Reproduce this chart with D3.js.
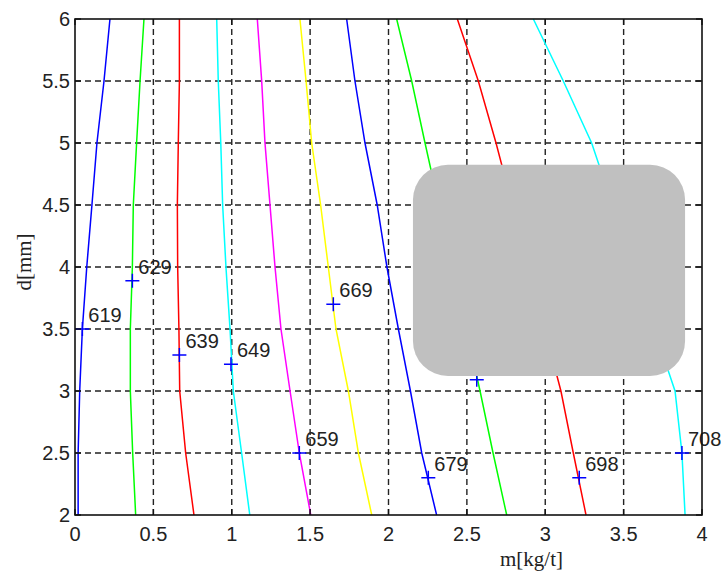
<!DOCTYPE html>
<html><head><meta charset="utf-8">
<script src="https://cdn.jsdelivr.net/npm/d3@7"></script>
<style>body{margin:0;background:#fff}svg{display:block}</style>
</head><body>
<svg id="c" width="721" height="573"></svg>
<script>
// y positions at which contour x-values were read
const yLevels = [2, 2.5, 3, 3.5, 4, 4.5, 5, 5.5, 6];
// contour x-values at each yLevel (null = hidden behind the grey box)
const c619 = [0.02, 0.02, 0.03, 0.047, 0.075, 0.108, 0.14, 0.185, 0.223];
const c629 = [0.387, 0.368, 0.353, 0.353, 0.366, 0.372, 0.393, 0.415, 0.44];
const c639 = [0.759, 0.706, 0.668, 0.663, 0.655, 0.653, 0.659, 0.666, 0.666];
const c649 = [1.115, 1.063, 1.01, 0.989, 0.963, 0.942, 0.93, 0.914, 0.904];
const c659 = [1.504, 1.431, 1.372, 1.314, 1.276, 1.244, 1.212, 1.191, 1.163];
const c669 = [1.893, 1.808, 1.744, 1.665, 1.616, 1.567, 1.51, 1.474, 1.435];
const c679 = [2.307, 2.212, 2.14, 2.063, 1.99, 1.928, 1.85, 1.786, 1.733];
const c688 = [2.754, 2.667, 2.584, null, null, null, 2.233, 2.148, 2.052];
const c698 = [3.26, 3.179, 3.1, null, null, null, 2.686, 2.573, 2.439];
const c708 = [3.892, 3.872, 3.828, null, null, null, 3.296, 3.115, 2.924];
const contours = [c619, c629, c639, c649, c659, c669, c679, c688, c698, c708];
const contourColors = ["#0000ff", "#00ff00", "#ff0000", "#00ffff", "#ff00ff", "#ffff00", "#0000ff", "#00ff00", "#ff0000", "#00ffff"];
// label marker positions
const labelText = ["619", "629", "639", "649", "659", "669", "679", "688", "698", "708"];
const labelX = [0.047, 0.366, 0.666, 0.995, 1.431, 1.648, 2.254, 2.563, 3.217, 3.872];
const labelY = [3.5, 3.89, 3.29, 3.215, 2.5, 3.70, 2.30, 3.09, 2.30, 2.50];
// ticks
const xTicks = [0, 0.5, 1, 1.5, 2, 2.5, 3, 3.5, 4];
const xTickLabels = ["0", "0.5", "1", "1.5", "2", "2.5", "3", "3.5", "4"];
const yTicks = [2, 2.5, 3, 3.5, 4, 4.5, 5, 5.5, 6];
const yTickLabels = ["2", "2.5", "3", "3.5", "4", "4.5", "5", "5.5", "6"];
// grey overlay box in data coordinates [x0, x1], [y0, y1]
const boxX = [2.156, 3.892];
const boxY = [3.121, 4.824];

const svg = d3.select("#c");
const L = 75, R = 702, T = 19, B = 515;
const x = d3.scaleLinear().domain([0, 4]).range([L, R]);
const y = d3.scaleLinear().domain([2, 6]).range([B, T]);
const font = "'Liberation Sans', Arial, sans-serif";

// grid
const grid = svg.append("g").attr("stroke", "#222").attr("stroke-width", 1.4).attr("stroke-dasharray", "6,4");
xTicks.slice(1, -1).forEach(t => grid.append("line").attr("x1", x(t)).attr("x2", x(t)).attr("y1", B).attr("y2", T));
yTicks.slice(1, -1).forEach(t => grid.append("line").attr("y1", y(t)).attr("y2", y(t)).attr("x1", L).attr("x2", R));

// contours
const line = d3.line().x(d => x(d[0])).y(d => y(d[1]));
contours.forEach((c, i) => {
  const pts = c.map((v, j) => [v, yLevels[j]]).filter(d => d[0] !== null);
  svg.append("path").attr("d", line(pts)).attr("fill", "none")
    .attr("stroke", contourColors[i]).attr("stroke-width", 1.5);
});

// markers + labels
labelText.forEach((t, i) => {
  const px = x(labelX[i]), py = y(labelY[i]);
  svg.append("path").attr("d", `M${px - 7},${py}H${px + 7}M${px},${py - 7}V${py + 7}`)
    .attr("stroke", "#0000ff").attr("stroke-width", 1.5);
  svg.append("text").attr("x", px + 6).attr("y", py - 7).text(t)
    .attr("font-family", font).attr("font-size", 20).attr("fill", "#222");
});

// axes box and ticks
svg.append("rect").attr("x", L).attr("y", T).attr("width", R - L).attr("height", B - T)
  .attr("fill", "none").attr("stroke", "#111").attr("stroke-width", 1.6);
const tk = svg.append("g").attr("stroke", "#111").attr("stroke-width", 1.4);
xTicks.forEach(t => {
  tk.append("line").attr("x1", x(t)).attr("x2", x(t)).attr("y1", B).attr("y2", B - 6);
  tk.append("line").attr("x1", x(t)).attr("x2", x(t)).attr("y1", T).attr("y2", T + 6);
});
yTicks.forEach(t => {
  tk.append("line").attr("y1", y(t)).attr("y2", y(t)).attr("x1", L).attr("x2", L + 6);
  tk.append("line").attr("y1", y(t)).attr("y2", y(t)).attr("x1", R).attr("x2", R - 6);
});

// tick labels
xTicks.forEach((t, i) => svg.append("text").attr("x", x(t)).attr("y", 541).attr("text-anchor", "middle")
  .attr("font-family", font).attr("font-size", 20).attr("fill", "#222").text(xTickLabels[i]));
yTicks.forEach((t, i) => svg.append("text").attr("x", 70).attr("y", y(t) + 7).attr("text-anchor", "end")
  .attr("font-family", font).attr("font-size", 20).attr("fill", "#222").text(yTickLabels[i]));

// axis titles
svg.append("text").attr("x", 500).attr("y", 566).attr("font-family", "'Liberation Serif', 'Times New Roman', serif")
  .attr("font-size", 21).attr("fill", "#222").text("m[kg/t]");
svg.append("text").attr("transform", "translate(31,262) rotate(-90)").attr("text-anchor", "middle")
  .attr("font-family", "'Liberation Serif', 'Times New Roman', serif").attr("font-size", 21).attr("fill", "#222").text("d[mm]");

// grey overlay
svg.append("rect").attr("x", x(boxX[0])).attr("y", y(boxY[1]))
  .attr("width", x(boxX[1]) - x(boxX[0])).attr("height", y(boxY[0]) - y(boxY[1]))
  .attr("rx", 35).attr("ry", 35).attr("fill", "#c0c0c0");
</script>
</body></html>
